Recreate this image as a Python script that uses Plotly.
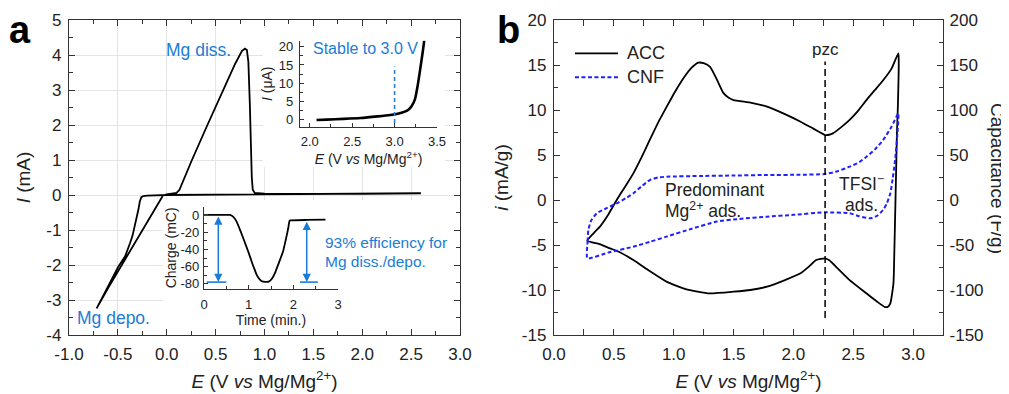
import plotly.graph_objects as go

W, H = 1009, 394
OFF = 8  # page body margin in the browser
FONT = "Liberation Sans, Arial, Helvetica, sans-serif"
BLUE_TXT = "#1b7cd6"
AX = "#333333"

def px(x):
    return (x - OFF) / W

def py(y):
    return 1 - (y - OFF) / H

# ---------------- Panel a: CV of Mg deposition / dissolution ----------------
cv_E = [2.6, 2.0, 1.5, 1.0, 0.5, 0.0, -0.2, -0.24, -0.26, -0.275, -0.291, -0.308, -0.325,
        -0.35, -0.376, -0.427, -0.496, -0.6, -0.717, -0.6, -0.4, -0.2, -0.04, 0.0, 0.05,
        0.1, 0.13, 0.17, 0.25, 0.4, 0.55, 0.7, 0.77, 0.8, 0.82, 0.835, 0.85, 0.86, 0.87,
        0.88, 0.9, 1.0, 1.5, 2.0, 2.6]
cv_I = [0.05, 0.04, 0.03, 0.02, 0.01, 0.0, -0.02, -0.03, -0.06, -0.18, -0.43, -0.66, -0.9,
        -1.16, -1.38, -1.76, -2.05, -2.62, -3.24, -2.66, -1.71, -0.76, -0.02, 0.02, 0.03,
        0.06, 0.15, 0.4, 0.95, 1.9, 2.85, 3.75, 4.12, 4.18, 4.14, 3.8, 2.6, 1.4, 0.5,
        0.15, 0.06, 0.04, 0.03, 0.035, 0.05]

# Inset: anodic stability
lsv_E = [2.08, 2.2, 2.4, 2.6, 2.8, 2.95, 3.05, 3.12, 3.17, 3.2, 3.24, 3.27, 3.3, 3.33, 3.35]
lsv_I = [-0.2, -0.1, 0.1, 0.35, 0.8, 1.2, 1.6, 2.1, 2.8, 3.6, 5.5, 9.0, 13.5, 18.3, 21.8]
stable_E = 3.0
stable_span = [-1.0, 14.6]

# Inset: charge vs time
chg_t = [0, 0.58, 0.65, 0.73, 0.82, 0.9, 0.99, 1.08, 1.18, 1.25, 1.32, 1.45, 1.52, 1.6,
         1.68, 1.77, 1.83, 1.886, 1.905, 1.92, 2.3, 2.72]
chg_Q = [0, 0, -2, -7.7, -19, -30, -42.5, -56, -69.6, -75, -77.5, -77.5, -74, -66,
         -55, -42.5, -29, -15.5, -9, -6.5, -5.8, -5.3]
arrow_t = [0.32, 2.30]
arrow_top = [0, -6]
arrow_bottom = -78
bar_spans = [[0.06, 0.5], [2.15, 2.55]]

# ---------------- Panel b: ACC / CNF CVs ----------------
acc_E = [0.279, 0.33, 0.384, 0.45, 0.524, 0.6, 0.663, 0.73, 0.80, 0.87, 0.942, 1.01, 1.08,
         1.15, 1.206, 1.25, 1.304, 1.36, 1.415, 1.46, 1.50, 1.65, 1.78, 1.92, 2.06, 2.17,
         2.265, 2.3, 2.33, 2.4, 2.47, 2.54, 2.61, 2.68, 2.75, 2.82, 2.877,
         2.88, 2.872, 2.865, 2.858, 2.85, 2.843, 2.836, 2.81, 2.79, 2.766, 2.7, 2.61, 2.47,
         2.37, 2.3, 2.265, 2.19, 2.13, 2.06, 1.92, 1.78, 1.64, 1.50, 1.30, 1.1, 0.94, 0.8,
         0.663, 0.55, 0.468, 0.38, 0.279]
acc_i = [-4.52, -3.7, -2.96, -1.7, 0.0, 1.6, 2.96, 4.7, 6.67, 8.6, 10.37, 12.0, 13.5,
         14.7, 15.26, 15.2, 14.8, 13.4, 11.9, 11.35, 11.1, 10.8, 10.37, 9.6, 8.7, 7.9,
         7.22, 7.25, 7.4, 8.1, 8.9, 9.9, 11.1, 12.2, 13.3, 14.6, 16.3,
         15.5, 10.0, 7.4, 3.0, -1.85, -6.0, -9.26, -11.48, -11.85, -11.9, -11.3, -10.37, -8.9,
         -7.6, -6.7, -6.48, -6.67, -7.4, -8.15, -8.95, -9.63, -10.0, -10.19, -10.37, -9.9,
         -9.07, -7.9, -6.67, -5.8, -5.37, -4.9, -4.52]

cnf_E = [0.279, 0.281, 0.287, 0.31, 0.357, 0.44, 0.524, 0.6, 0.663, 0.73, 0.80, 0.87, 0.94,
         1.22, 1.5, 1.78, 2.05, 2.265, 2.37, 2.47, 2.55, 2.61, 2.68, 2.75, 2.82, 2.877,
         2.87, 2.85, 2.83, 2.81, 2.78, 2.75, 2.7, 2.64, 2.55, 2.47, 2.265, 2.0, 1.78, 1.55,
         1.36, 1.15, 0.94, 0.8, 0.663, 0.45, 0.279]
cnf_i = [-6.48, -4.6, -3.33, -2.3, -1.48, -0.9, -0.37, 0.2, 0.74, 1.5, 2.22, 2.5, 2.59,
         2.67, 2.72, 2.78, 2.8, 2.89, 3.2, 3.7, 4.2, 4.8, 5.6, 6.67, 8.15, 9.63,
         7.5, 4.44, 2.4, 0.74, -0.4, -1.1, -1.75, -2.04, -1.8, -1.48, -1.37, -1.65, -1.85,
         -2.1, -2.4, -3.2, -4.07, -4.65, -5.19, -5.85, -6.48]

# capacitance scale factor of the right axis (F/g per mA/g)
cap_per_current = 10.0

pzc_E = 2.265
pzc_span = [-13.1, 15.4]

# tick labels (hyphen minus as in the reference)
a_xticks = [-1.0, -0.5, 0.0, 0.5, 1.0, 1.5, 2.0, 2.5, 3.0]
a_xlabels = ["-1.0", "-0.5", "0.0", "0.5", "1.0", "1.5", "2.0", "2.5", "3.0"]
a_yticks = [-4, -3, -2, -1, 0, 1, 2, 3, 4, 5]
a_ylabels = ["-4", "-3", "-2", "-1", "0", "1", "2", "3", "4", "5"]
b_xticks = [0.0, 0.5, 1.0, 1.5, 2.0, 2.5, 3.0]
b_xlabels = ["0.0", "0.5", "1.0", "1.5", "2.0", "2.5", "3.0"]
b_yticks = [-15, -10, -5, 0, 5, 10, 15, 20]
b_ylabels = ["-15", "-10", "-5", "0", "5", "10", "15", "20"]
b_y2ticks = [-150, -100, -50, 0, 50, 100, 150, 200]
b_y2labels = ["-150", "-100", "-50", "0", "50", "100", "150", "200"]
i1_xticks = [2.0, 2.5, 3.0, 3.5]
i1_xlabels = ["2.0", "2.5", "3.0", "3.5"]
i1_yticks = [0, 5, 10, 15, 20]
i1_ylabels = ["0", "5", "10", "15", "20"]
i2_xticks = [0, 1, 2, 3]
i2_xlabels = ["0", "1", "2", "3"]
i2_yticks = [0, -20, -40, -60, -80]
i2_ylabels = ["0", "-20", "-40", "-60", "-80"]

E_TITLE = "<i>E</i> (V <i>vs</i> Mg/Mg<sup>2+</sup>)"

fig = go.Figure()

fig.add_trace(go.Scatter(x=cv_E, y=cv_I, mode="lines", line=dict(color="black", width=1.8),
                         xaxis="x", yaxis="y", showlegend=False, hoverinfo="skip"))
fig.add_trace(go.Scatter(x=lsv_E, y=lsv_I, mode="lines",
                         line=dict(color="black", width=2.6, shape="spline", smoothing=0.6),
                         xaxis="x4", yaxis="y4", showlegend=False, hoverinfo="skip"))
fig.add_trace(go.Scatter(x=[stable_E, stable_E], y=stable_span, mode="lines",
                         line=dict(color="#2a7fd4", width=1.6, dash="4px,3px"),
                         xaxis="x4", yaxis="y4", showlegend=False, hoverinfo="skip"))
fig.add_trace(go.Scatter(x=chg_t, y=chg_Q, mode="lines",
                         line=dict(color="black", width=1.8, shape="spline", smoothing=0.25),
                         xaxis="x5", yaxis="y5", showlegend=False, hoverinfo="skip"))
fig.add_trace(go.Scatter(x=acc_E, y=acc_i, mode="lines", name="ACC",
                         line=dict(color="black", width=1.8, shape="spline", smoothing=0.5),
                         xaxis="x2", yaxis="y2", showlegend=False, hoverinfo="skip"))
fig.add_trace(go.Scatter(x=cnf_E, y=cnf_i, mode="lines", name="CNF",
                         line=dict(color="#1f1fff", width=2, dash="4px,2.5px",
                                   shape="spline", smoothing=0.5),
                         xaxis="x2", yaxis="y2", showlegend=False, hoverinfo="skip"))
# ACC expressed as capacitance on the right axis (coincides with ACC curve; invisible)
fig.add_trace(go.Scatter(x=acc_E, y=[v * cap_per_current for v in acc_i], mode="lines",
                         name="ACC capacitance", opacity=0,
                         line=dict(color="black", width=1),
                         xaxis="x2", yaxis="y3", showlegend=False, hoverinfo="skip"))
fig.add_trace(go.Scatter(x=[pzc_E, pzc_E], y=pzc_span, mode="lines",
                         line=dict(color="black", width=1.5, dash="7px,4px"),
                         xaxis="x2", yaxis="y2", showlegend=False, hoverinfo="skip"))


def axis(domain, rng, tickvals, ticktext, minor_dtick, minor_tick0, size=17, ticklen=6,
         mlen=3.5, **kw):
    d = dict(domain=domain, range=rng, showline=True, linecolor=AX, linewidth=1.3,
             ticks="inside", tickcolor=AX, ticklen=ticklen, tickwidth=1.2,
             tickmode="array", tickvals=tickvals, ticktext=ticktext,
             tickfont=dict(size=size, color="#222", family=FONT), zeroline=False,
             showgrid=False, automargin=False, ticklabelstandoff=3,
             minor=dict(ticks="inside", ticklen=mlen, tickcolor=AX, tickwidth=1.1,
                        dtick=minor_dtick, tick0=minor_tick0, showgrid=False))
    d.update(kw)
    return d


fig.update_layout(
    width=W, height=H, margin=dict(l=0, r=0, t=0, b=0),
    paper_bgcolor="white", plot_bgcolor="white",
    font=dict(family=FONT, color="#222"),
    xaxis=axis([px(69), px(460)], [-1, 3], a_xticks, a_xlabels, 0.25, 0, anchor="y",
               mirror="allticks", showgrid=True, gridcolor="#e4e4e4", gridwidth=1,
               title=dict(text=E_TITLE, font=dict(size=19), standoff=12)),
    yaxis=axis([py(335), py(20)], [-4, 5], a_yticks, a_ylabels, 0.5, 0, anchor="x",
               mirror="allticks", showgrid=True, gridcolor="#e4e4e4", gridwidth=1,
               title=dict(text="<i>I</i> (mA)", font=dict(size=19), standoff=10)),
    xaxis2=axis([px(554), px(943)], [0, 3.25], b_xticks, b_xlabels, 0.25, 0, anchor="y2",
                mirror="allticks",
                title=dict(text=E_TITLE, font=dict(size=19), standoff=12)),
    yaxis2=axis([py(335), py(20)], [-15, 20], b_yticks, b_ylabels, 2.5, 0, anchor="x2",
                title=dict(text="<i>i</i> (mA/g)", font=dict(size=19), standoff=8)),
    yaxis3=axis([py(335), py(20)], [-150, 200], b_y2ticks, b_y2labels, 25, 0, anchor="x2",
                overlaying="y2", side="right", ticklabelstandoff=2),
    xaxis4=axis([px(300), px(437)], [1.885, 3.5], i1_xticks, i1_xlabels, 0.25, 0,
                size=13, ticklen=4, mlen=2.5, anchor="y4",
                title=dict(text=E_TITLE, font=dict(size=14), standoff=4)),
    yaxis4=axis([py(126.7), py(40.7)], [-2.05, 21.7], i1_yticks, i1_ylabels, 2.5, 0,
                size=13, ticklen=4, mlen=2.5, anchor="x4",
                title=dict(text="<i>I</i> (μA)", font=dict(size=14), standoff=2)),
    xaxis5=axis([px(204), px(338)], [0, 3], i2_xticks, i2_xlabels, 0.5, 0,
                size=13, ticklen=4, mlen=2.5, anchor="y5",
                title=dict(text="Time (min.)", font=dict(size=14), standoff=4)),
    yaxis5=axis([py(289), py(206.7)], [-86, 9.6], i2_yticks, i2_ylabels, 10, 0,
                size=13, ticklen=4, mlen=2.5, anchor="x5", ticklabelstandoff=1,
                title=dict(text="Charge (mC)", font=dict(size=14), standoff=0)),
)

shapes = []
# white boxes behind insets (hide main grid)
for (x0, x1, y0, y1) in [(0.985, 2.846, 0.86, 4.77), (0.985, 2.63, 0.8, 1.2),
                          (-0.038, 2.95, -3.86, -0.143)]:
    shapes.append(dict(type="rect", xref="x", yref="y", x0=x0, x1=x1, y0=y0, y1=y1,
                       fillcolor="white", line=dict(width=0), layer="between"))
# bars at the bottom of the efficiency arrows
for (t0, t1) in bar_spans:
    shapes.append(dict(type="line", xref="x5", yref="y5", x0=t0, x1=t1,
                       y0=arrow_bottom, y1=arrow_bottom,
                       line=dict(color=BLUE_TXT, width=1.6)))
# legend samples (panel b)
shapes.append(dict(type="line", xref="x2", yref="y2", x0=0.175, x1=0.535, y0=16.3, y1=16.3,
                   line=dict(color="black", width=1.8)))
shapes.append(dict(type="line", xref="x2", yref="y2", x0=0.175, x1=0.535, y0=13.63, y1=13.63,
                   line=dict(color="#1f1fff", width=2, dash="4px,2.5px")))
fig.update_layout(shapes=shapes)

ann = []
def txt(x, y, text, xref, yref, size, color="#222", xanchor="center", yanchor="middle",
        bold=False, angle=0):
    ann.append(dict(x=x, y=y, xref=xref, yref=yref, text=("<b>%s</b>" % text) if bold else text,
                    showarrow=False, xanchor=xanchor, yanchor=yanchor, textangle=angle,
                    font=dict(size=size, color=color, family=FONT)))

txt(px(20), py(30), "a", "paper", "paper", 38, color="black", bold=True)
txt(px(508), py(30), "b", "paper", "paper", 38, color="black", bold=True)
# right-axis title, reading top to bottom as in the reference
txt(px(998), py(178), "Capacitance (F/g)", "paper", "paper", 19, angle=90)
txt(0.678, 4.14, "Mg diss.", "x", "y", 17.5, BLUE_TXT, xanchor="right")
txt(-0.939, -3.51, "Mg depo.", "x", "y", 17.5, BLUE_TXT, xanchor="left")
txt(2.02, 19.5, "Stable to 3.0 V", "x4", "y4", 16, BLUE_TXT, xanchor="left")
txt(1.598, -1.37, "93% efficiency for", "x", "y", 15.5, BLUE_TXT, xanchor="left")
txt(1.598, -1.91, "Mg diss./depo.", "x", "y", 15.5, BLUE_TXT, xanchor="left")
txt(0.593, 16.3, "ACC", "x2", "y2", 18, xanchor="left")
txt(0.593, 13.63, "CNF", "x2", "y2", 18, xanchor="left")
txt(pzc_E, 16.67, "pzc", "x2", "y2", 17)
txt(0.911, 1.11, "Predominant", "x2", "y2", 17.5, xanchor="left")
txt(0.911, -1.11, "Mg<sup>2+</sup> ads.", "x2", "y2", 17.5, xanchor="left")
txt(2.571, 1.92, "TFSI<sup>−</sup>", "x2", "y2", 17.5)
txt(2.571, -0.56, "ads.", "x2", "y2", 17.5)

for t, top in zip(arrow_t, arrow_top):
    ann.append(dict(x=t, y=arrow_bottom, ax=t, ay=top, xref="x5", yref="y5",
                    axref="x5", ayref="y5", text="", showarrow=True, arrowhead=2,
                    arrowside="end+start", arrowsize=1.1, arrowwidth=1.5,
                    arrowcolor=BLUE_TXT, standoff=0, startstandoff=0))
fig.update_layout(annotations=ann)

fig.write_html("out.html")
